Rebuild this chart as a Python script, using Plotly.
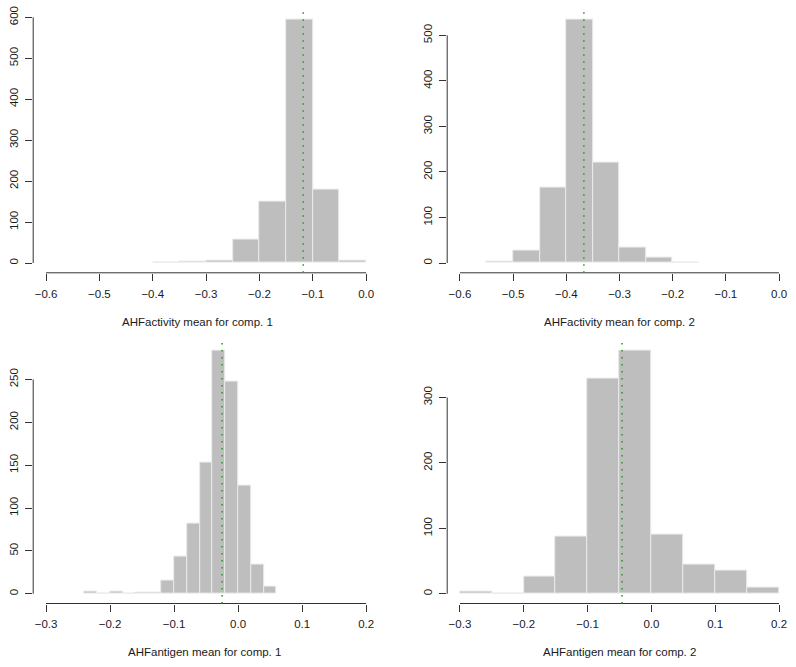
import plotly.graph_objects as go

# ---------------- data ----------------
# Panel 1: AHFactivity mean for comp. 1
p1_edges_start = [-0.40, -0.35, -0.30, -0.25, -0.20, -0.15, -0.10, -0.05]
p1_counts = [1, 3, 7, 57, 150, 595, 180, 5]
p1_binwidth = 0.05
p1_mean = -0.118
p1_xticks = [-0.6, -0.5, -0.4, -0.3, -0.2, -0.1, 0.0]
p1_yticks = [0, 100, 200, 300, 400, 500, 600]
p1_xlim = [-0.6, 0.0]
p1_label = "AHFactivity mean for comp. 1"

# Panel 2: AHFactivity mean for comp. 2
p2_edges_start = [-0.55, -0.50, -0.45, -0.40, -0.35, -0.30, -0.25, -0.20]
p2_counts = [4, 28, 165, 535, 220, 33, 12, 1]
p2_binwidth = 0.05
p2_mean = -0.367
p2_xticks = [-0.6, -0.5, -0.4, -0.3, -0.2, -0.1, 0.0]
p2_yticks = [0, 100, 200, 300, 400, 500]
p2_xlim = [-0.6, 0.0]
p2_label = "AHFactivity mean for comp. 2"

# Panel 3: AHFantigen mean for comp. 1
p3_edges_start = [-0.24, -0.22, -0.20, -0.18, -0.16, -0.14, -0.12, -0.10,
                  -0.08, -0.06, -0.04, -0.02, 0.00, 0.02, 0.04]
p3_counts = [2, 0.5, 3, 0.5, 1, 1, 15, 43, 82, 153, 284, 248, 126, 34, 8]
p3_binwidth = 0.02
p3_mean = -0.025
p3_xticks = [-0.3, -0.2, -0.1, 0.0, 0.1, 0.2]
p3_yticks = [0, 50, 100, 150, 200, 250]
p3_xlim = [-0.3, 0.2]
p3_label = "AHFantigen mean for comp. 1"

# Panel 4: AHFantigen mean for comp. 2
p4_edges_start = [-0.30, -0.25, -0.20, -0.15, -0.10, -0.05, 0.00, 0.05, 0.10, 0.15]
p4_counts = [4, 1, 26, 87, 329, 372, 90, 45, 36, 9]
p4_binwidth = 0.05
p4_mean = -0.046
p4_xticks = [-0.3, -0.2, -0.1, 0.0, 0.1, 0.2]
p4_yticks = [0, 100, 200, 300]
p4_xlim = [-0.3, 0.2]
p4_label = "AHFantigen mean for comp. 2"

panels = [
    (p1_edges_start, p1_counts, p1_binwidth, p1_mean, p1_xticks, p1_yticks, p1_xlim, p1_label),
    (p2_edges_start, p2_counts, p2_binwidth, p2_mean, p2_xticks, p2_yticks, p2_xlim, p2_label),
    (p3_edges_start, p3_counts, p3_binwidth, p3_mean, p3_xticks, p3_yticks, p3_xlim, p3_label),
    (p4_edges_start, p4_counts, p4_binwidth, p4_mean, p4_xticks, p4_yticks, p4_xlim, p4_label),
]

# ---------------- layout geometry ----------------
W, H = 796, 667
xdomains = [[33.2 / W, 379.0 / W], [447.2 / W, 791.8 / W]]
ydomains = [[1 - 272.8 / H, 1 - 9.6 / H], [1 - 603.5 / H, 1 - 340.6 / H]]
label_centers_px = [(197, 321.7), (619.5, 321.7), (205, 651.7), (619.5, 651.7)]

FONT = "Liberation Sans, Arial, Helvetica, sans-serif"
AXC = "#333333"

fig = go.Figure()
layout = dict(
    width=W, height=H,
    margin=dict(l=0, r=0, t=0, b=0, pad=0),
    paper_bgcolor="white", plot_bgcolor="white",
    showlegend=False,
    font=dict(family=FONT, size=11.5, color="#1a1a1a"),
    bargap=0,
)
shapes = []
annotations = []

for i, (starts, counts, bw, mean, xt, yt, xlim, label) in enumerate(panels):
    r, c = divmod(i, 2)
    sfx = "" if i == 0 else str(i + 1)
    xa, ya = "x" + sfx, "y" + sfx
    centers = [s + bw / 2 for s in starts]
    fig.add_trace(go.Bar(
        x=centers, y=counts, width=[bw] * len(counts),
        marker=dict(color="#BEBEBE", line=dict(color="#EAEAEA", width=1)),
        xaxis=xa, yaxis=ya, hoverinfo="x+y",
    ))
    xspan = xlim[1] - xlim[0]
    ymax = max(counts)
    layout["xaxis" + sfx] = dict(
        domain=xdomains[c], anchor=ya, automargin=False,
        range=[xlim[0] - 0.04 * xspan, xlim[1] + 0.04 * xspan],
        tickvals=xt, ticktext=[("%.1f" % v).replace("-", "\u2212") for v in xt],
        ticks="outside", ticklen=7, tickwidth=1, tickcolor=AXC,
        showgrid=False, zeroline=False, showline=False,
        ticklabelstandoff=3, fixedrange=True,
    )
    layout["yaxis" + sfx] = dict(
        domain=ydomains[r], anchor=xa, automargin=False,
        range=[-0.04 * ymax, ymax * 1.04],
        tickvals=yt, ticktext=[str(v) for v in yt],
        ticks="outside", ticklen=7, tickwidth=1, tickcolor=AXC,
        tickangle=-90,
        showgrid=False, zeroline=False, showline=False,
        ticklabelstandoff=3, fixedrange=True,
    )
    # R-style axis lines spanning only the tick range
    shapes.append(dict(type="line", xref=xa, yref=ya + " domain",
                       x0=xt[0], x1=xt[-1], y0=0, y1=0,
                       line=dict(color=AXC, width=1)))
    shapes.append(dict(type="line", xref=xa + " domain", yref=ya,
                       x0=0, x1=0, y0=yt[0], y1=yt[-1],
                       line=dict(color=AXC, width=1)))
    # mean line (green dotted)
    shapes.append(dict(type="line", xref=xa, yref=ya + " domain",
                       x0=mean, x1=mean, y0=0, y1=1,
                       line=dict(color="#2E9B2E", width=1.6, dash="1.6px,5.4px")))
    cx, cy = label_centers_px[i]
    annotations.append(dict(text=label, xref="paper", yref="paper",
                            x=cx / W, y=1 - cy / H, xanchor="center", yanchor="middle",
                            showarrow=False, font=dict(size=11.5, color="#1a1a1a")))

layout["shapes"] = shapes
layout["annotations"] = annotations
fig.update_layout(**layout)
fig.write_html("out.html", config={"displayModeBar": False},
               post_script="document.body.style.margin='0';document.body.style.overflow='hidden';")
